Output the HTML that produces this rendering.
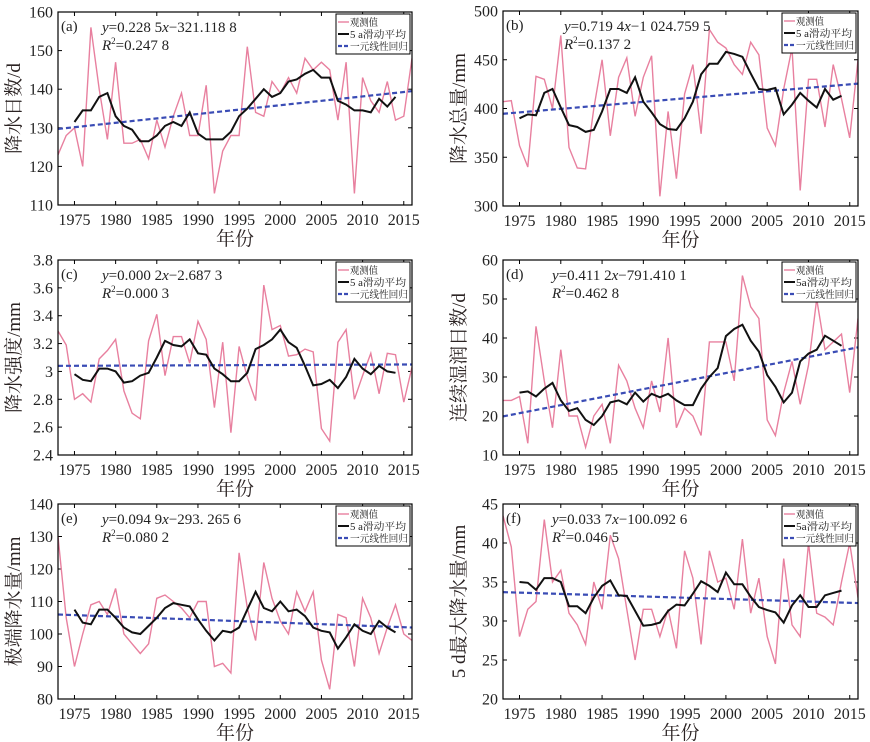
<!DOCTYPE html>
<html><head><meta charset="utf-8"><style>
body{margin:0;background:#fff;}
svg{display:block;font-family:"Liberation Serif","Noto Serif CJK SC",serif;}
</style></head><body>
<svg id="chart" width="870" height="742" viewBox="0 0 870 742" xmlns="http://www.w3.org/2000/svg"></svg>
<script>
const years = [1973,1974,1975,1976,1977,1978,1979,1980,1981,1982,1983,1984,1985,1986,1987,1988,1989,1990,1991,1992,1993,1994,1995,1996,1997,1998,1999,2000,2001,2002,2003,2004,2005,2006,2007,2008,2009,2010,2011,2012,2013,2014,2015,2016];
const maYears = [1975,1976,1977,1978,1979,1980,1981,1982,1983,1984,1985,1986,1987,1988,1989,1990,1991,1992,1993,1994,1995,1996,1997,1998,1999,2000,2001,2002,2003,2004,2005,2006,2007,2008,2009,2010,2011,2012,2013,2014];
const xTickYears = [1975,1980,1985,1990,1995,2000,2005,2010,2015];

const obsA = [123,128,130,120,156,140,127,147,126,126,127,122,132,125,133,139,128,128,141,113,124,128,128,151,134,133,142,139,143,139,148,145,147,145,132,147,113,143,137,134,142,132,133,148];
const maA = [131.5,134.5,134.5,138,139,133,130.5,129.5,126.5,126.5,128,130.5,131.5,130.5,134,128.5,127,127,127,129,133,135,137.5,140,138,139,142,142.5,144,145,143,143,137,136,134.5,134.5,134,137.5,135.5,138];
const trendA = [129.7,139.5];
const yTicksA = [110,120,130,140,150,160];

const obsB = [407,408,362,340,433,430,400,475,360,339,338,400,450,372,432,452,392,432,454,310,397,328,415,445,374,481,468,462,445,435,468,455,380,362,420,462,316,430,430,381,445,410,370,450];
const maB = [390,394,393,416,420,401,383,381,376,378,397,420,420,416,432,407,396,384,379,378,390,407,435,446,446,458,456,453,436,420,419,421,394,404,416,408,401,420,409,413];
const trendB = [394.6,425.5];
const yTicksB = [300,350,400,450,500];

const obsC = [3.29,3.19,2.80,2.84,2.78,3.09,3.15,3.23,2.86,2.70,2.66,3.22,3.41,2.97,3.25,3.25,3.06,3.36,3.23,2.74,3.21,2.56,3.18,2.96,2.79,3.62,3.30,3.33,3.11,3.12,3.16,3.14,2.59,2.50,3.21,3.30,2.80,2.97,3.13,2.84,3.13,3.12,2.78,3.03];
const maC = [2.98,2.94,2.93,3.02,3.02,3.00,2.92,2.93,2.97,2.99,3.10,3.22,3.19,3.18,3.23,3.13,3.12,3.02,2.98,2.93,2.93,2.99,3.16,3.19,3.23,3.30,3.21,3.17,3.04,2.90,2.91,2.94,2.88,2.96,3.09,3.02,2.98,3.04,3.00,2.99];
const trendC = [3.04,3.05];
const yTicksC = [2.4,2.6,2.8,3,3.2,3.4,3.6,3.8];

const obsD = [24,24,25,13,43,29,17,37,20,20,12,20,23,13,33,29,22,17,29,21,40,17,22,20,15,39,39,39,29,56,48,45,19,15,26,34,23,33,50,37,39,41,26,45];
const maD = [26,26.3,25,27,28.5,24,21.3,22,19,17.7,20,23.5,24,23,26,23.7,25.7,24.8,25.7,24,22.8,22.8,27,30,32.3,40.5,42.3,43.4,39.3,36.5,30.5,27.5,23.5,26,34,36,37,40.6,39.3,38];
const trendD = [19.9,37.6];
const yTicksD = [10,20,30,40,50,60];

const obsE = [130,105,90,100,109,110,106,114,100,97,94,97,111,112,110,108,105,110,110,90,91,88,125,108,98,122,111,104,100,113,107,113,92,83,106,105,90,111,105,94,102,109,100,98];
const maE = [107.5,103.5,103,107.5,107.5,105,102,100.5,100,102.5,105,108,109.5,109,108.5,104.5,101,98,101,100.5,102,107.5,113,108,107,110,107,107.5,105.5,102,101,100.5,95.5,99,103,101,100,104,102,100.5];
const trendE = [106,102];
const yTicksE = [80,90,100,110,120,130,140];

const obsF = [43.5,39.5,28,31.5,32.5,43,35,36.5,31,29.5,27,35,31.5,41,38,31.5,25,31.5,31.5,28,31.5,26.5,39,35.5,27,39,35,35.5,31.5,40.5,31,35.5,28,24.5,38,29.5,28,40,31,30.5,29.5,35,40,33];
const maF = [35,34.9,34,35.5,35.5,35,31.9,31.9,31,33,34.5,35.2,33.3,33.2,31.3,29.4,29.5,29.8,31.3,32.1,32,33.5,35.1,34.5,33.7,36.2,34.7,34.7,33.1,31.8,31.4,31.1,29.8,32,33.3,31.8,31.8,33.3,33.6,33.9];
const trendF = [33.7,32.3];
const yTicksF = [20,25,30,35,40,45];

const panels = [
 {id:'a',L:58,R:412,T:12,B:205,obs:obsA,ma:maA,trend:trendA,ticks:yTicksA,title:'降水日数/d',eq:['0.228 5','−321.118 8'],r2:'0.247 8',eqx:44,ma_lbl:'5 a滑动平均'},
 {id:'b',L:503,R:858,T:11,B:206,obs:obsB,ma:maB,trend:trendB,ticks:yTicksB,title:'降水总量/mm',eq:['0.719 4','−1 024.759 5'],r2:'0.137 2',eqx:61,ma_lbl:'5 a滑动平均'},
 {id:'c',L:58,R:412,T:260,B:455,obs:obsC,ma:maC,trend:trendC,ticks:yTicksC,title:'降水强度/mm',eq:['0.000 2','−2.687 3'],r2:'0.000 3',eqx:44,ma_lbl:'5 a滑动平均'},
 {id:'d',L:503,R:858,T:260,B:455,obs:obsD,ma:maD,trend:trendD,ticks:yTicksD,title:'连续湿润日数/d',eq:['0.411 2','−791.410 1'],r2:'0.462 8',eqx:49,ma_lbl:'5a滑动平均'},
 {id:'e',L:58,R:412,T:504,B:699,obs:obsE,ma:maE,trend:trendE,ticks:yTicksE,title:'极端降水量/mm',eq:['0.094 9','−293. 265 6'],r2:'0.080 2',eqx:44,ma_lbl:'5 a滑动平均'},
 {id:'f',L:503,R:858,T:504,B:699,obs:obsF,ma:maF,trend:trendF,ticks:yTicksF,title:'5 d最大降水量/mm',eq:['0.033 7','−100.092 6'],r2:'0.046 5',eqx:49,ma_lbl:'5a滑动平均'}
];

const NS='http://www.w3.org/2000/svg';
const svg=document.getElementById('chart');
function mk(tag,attrs,parent){const e=document.createElementNS(NS,tag);for(const k in attrs)e.setAttribute(k,attrs[k]);(parent||svg).appendChild(e);return e;}

panels.forEach(p=>{
  const g=mk('g',{});
  
  
  const y0=p.ticks[0], y1=p.ticks[p.ticks.length-1];
  const sx=v=>p.L+(v-1973)/(2016-1973)*(p.R-p.L);
  const sy=v=>p.B-(v-y0)/(y1-y0)*(p.B-p.T);
  const cp=mk('clipPath',{id:'clip'+p.id},g);
  mk('rect',{x:p.L,y:p.T,width:p.R-p.L,height:p.B-p.T},cp);
  p.ticks.forEach(t=>{
    const y=sy(t);
    const tk=mk('line',{x1:p.L,x2:p.L+4,y1:y,y2:y,stroke:'#000','stroke-width':1},g);
    
    
    mk('line',{x1:p.R,x2:p.R-4,y1:y,y2:y,stroke:'#000','stroke-width':1},g);
    const tl=mk('text',{x:p.L-5,y:y+5.5,'text-anchor':'end','font-size':16,fill:'#222'},g);
    tl.textContent=String(t);
    
    
  });
  xTickYears.forEach(yr=>{
    const x=sx(yr);
    mk('line',{x1:x,x2:x,y1:p.B,y2:p.B-4,stroke:'#000','stroke-width':1},g);
    mk('line',{x1:x,x2:x,y1:p.T,y2:p.T+4,stroke:'#000','stroke-width':1},g);
    const tl=mk('text',{x:x,y:p.B+20,'text-anchor':'middle','font-size':16,fill:'#222'},g);
    tl.textContent=String(yr);
    
    
  });
  const cg=mk('g',{'clip-path':'url(#clip'+p.id+')'},g);
  const obsPts=years.map((yr,i)=>sx(yr).toFixed(1)+','+sy(p.obs[i]).toFixed(1)).join(' ');
  const ol=mk('polyline',{points:obsPts,fill:'none',stroke:'#e8809f','stroke-width':1.4},cg);
  
  
  const tr=mk('line',{x1:sx(1973),y1:sy(p.trend[0]),x2:sx(2016),y2:sy(p.trend[1]),stroke:'#3a4cb5','stroke-width':2.2,'stroke-dasharray':'5,3'},cg);
  
  
  const maPts=maYears.map((yr,i)=>sx(yr).toFixed(1)+','+sy(p.ma[i]).toFixed(1)).join(' ');
  const ml=mk('polyline',{points:maPts,fill:'none',stroke:'#111','stroke-width':2},cg);
  
  
  const fr=mk('rect',{x:p.L,y:p.T,width:p.R-p.L,height:p.B-p.T,fill:'none',stroke:'#000','stroke-width':1.2},g);
  
  
  const pl=mk('text',{x:p.L+3,y:p.T+19,'font-size':15,fill:'#222'},g);
  pl.textContent='('+p.id+')';
  
  
  const eq=mk('text',{x:p.L+p.eqx,y:p.T+20,'font-size':15,fill:'#222'},g);
  
  
  const t1=mk('tspan',{'font-style':'italic'},eq);t1.textContent='y';
  const t2=mk('tspan',{},eq);t2.textContent='='+p.eq[0];
  const t3=mk('tspan',{'font-style':'italic'},eq);t3.textContent='x';
  const t4=mk('tspan',{},eq);t4.textContent=p.eq[1];
  const r2=mk('text',{x:p.L+p.eqx,y:p.T+38,'font-size':15,fill:'#222'},g);
  
  
  const r1=mk('tspan',{'font-style':'italic'},r2);r1.textContent='R';
  const rs=mk('tspan',{'font-size':9,dy:-6},r2);rs.textContent='2';
  const rv=mk('tspan',{dy:6},r2);rv.textContent='='+p.r2;
  const lg=mk('g',{},g);
  
  
  const lx=p.R-76, ly=p.T+2;
  mk('rect',{x:lx,y:ly,width:74,height:40,fill:'#fff',stroke:'#000','stroke-width':1},lg);
  const items=[['观测值','#e8809f',1.4,'',28],[p.ma_lbl,'#111',2,'',56],['一元线性回归','#3a4cb5',2.2,'4,2',58]];
  items.forEach((it,i)=>{
    const yy=ly+8+i*12;
    const ent=mk('g',{},lg);
    
    
    const a={x1:lx+2,x2:lx+13,y1:yy,y2:yy,stroke:it[1],'stroke-width':it[2]};
    if(it[3])a['stroke-dasharray']=it[3];
    mk('line',a,ent);
    const tx=mk('text',{x:lx+14,y:yy+4,'font-size':10,fill:'#222',textLength:it[4],lengthAdjust:'spacingAndGlyphs'},ent);
    tx.textContent=it[0];
  });
  const cx=p.L-38, cy=(p.T+p.B)/2;
  const yt=mk('text',{x:cx,y:cy,'text-anchor':'middle','font-size':19,fill:'#2a2222',transform:'rotate(-90 '+cx+' '+cy+')'},g);
  yt.textContent=p.title;
  
  
  const xt=mk('text',{x:(p.L+p.R)/2,y:p.B+40,'text-anchor':'middle','font-size':19,fill:'#2a2222'},g);
  xt.textContent='年份';
  
  
});
</script>
</body></html>
